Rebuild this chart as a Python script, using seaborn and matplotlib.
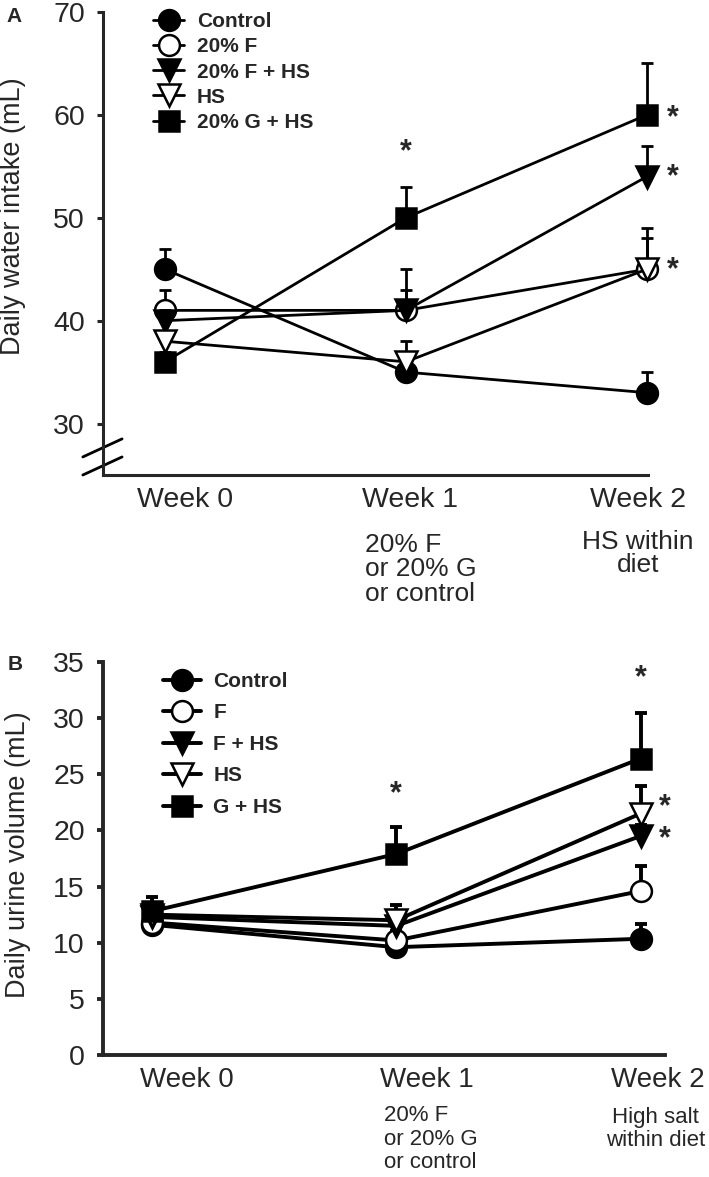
import numpy as np
import pandas as pd
import matplotlib
matplotlib.use("Agg")
import matplotlib.pyplot as plt
import seaborn as sns

# values (mean and upper SEM)
weeks = [0, 1, 2]

groups_a = ["Control", "20% F", "20% F + HS", "HS", "20% G + HS"]
water_control = [45, 35, 33]
water_f = [41, 41, 45]
water_fhs = [40, 41, 54]
water_hs = [38, 36, 45]
water_ghs = [36, 50, 60]
water_err_control = [2, 2, 2]
water_err_f = [2, 4, 4]
water_err_fhs = [1, 2, 3]
water_err_hs = [1, 2, 3]
water_err_ghs = [1, 3, 5]

groups_b = ["Control", "F", "F + HS", "HS", "G + HS"]
urine_control = [11.6, 9.6, 10.35]
urine_f = [11.8, 10.2, 14.6]
urine_fhs = [12.3, 11.5, 19.5]
urine_hs = [12.5, 12.0, 21.5]
urine_ghs = [12.8, 17.9, 26.4]
urine_err_control = [0.8, 0.6, 1.35]
urine_err_f = [0.8, 0.8, 2.2]
urine_err_fhs = [0.8, 0.8, 1.0]
urine_err_hs = [1.0, 1.4, 2.5]
urine_err_ghs = [1.3, 2.4, 4.1]

week_labels = ["Week 0", "Week 1", "Week 2"]
sub_week1 = "20% F\nor 20% G\nor control"
sub_week2_a = "HS within\ndiet"
sub_week2_b = "High salt\nwithin diet"

# significance stars: (week, y)
stars_a = [(1, 56.7), (2.11, 60), (2.11, 54.3), (2.11, 45.2)]
stars_b = [(1, 23.5), (2, 33.9), (2.1, 22.4), (2.1, 19.5)]

markers = ["o", "o", "v", "v", "s"]
faces = ["black", "white", "black", "white", "black"]
msizes = [15, 15, 16, 16, 14.5]


def long_frame(groups, values, errs):
    rows = []
    for g, vals, es in zip(groups, values, errs):
        for w, v, e in zip(weeks, vals, es):
            rows.append({"group": g, "week": w, "value": v, "err": e})
    return pd.DataFrame(rows)


df_a = long_frame(groups_a,
                  [water_control, water_f, water_fhs, water_hs, water_ghs],
                  [water_err_control, water_err_f, water_err_fhs, water_err_hs, water_err_ghs])
df_b = long_frame(groups_b,
                  [urine_control, urine_f, urine_fhs, urine_hs, urine_ghs],
                  [urine_err_control, urine_err_f, urine_err_fhs, urine_err_hs, urine_err_ghs])

sns.set_style("ticks")
plt.rcParams["font.family"] = ["Liberation Sans", "DejaVu Sans"]

W, H = 709, 1177
fig = plt.figure(figsize=(W / 100, H / 100), dpi=100)


def px_axes(left, top, right, bottom):
    return fig.add_axes([left / W, 1 - bottom / H, (right - left) / W, (bottom - top) / H])


def draw_panel(ax, df, groups, lw, spine_w):
    for i, g in enumerate(groups):
        sub = df[df["group"] == g]
        eb = ax.errorbar(sub["week"], sub["value"],
                         yerr=[np.zeros(len(sub)), sub["err"]],
                         fmt="none", ecolor="black", elinewidth=lw, capsize=4.5,
                         capthick=lw, zorder=2 + i)
        for art in eb.get_children():
            art.set_clip_on(False)
        sns.lineplot(data=sub, x="week", y="value", ax=ax, color="black", lw=lw,
                     marker=markers[i], ms=msizes[i], markerfacecolor=faces[i],
                     markeredgecolor="black", markeredgewidth=1.8,
                     label=g, clip_on=False, zorder=3 + i, errorbar=None)
    for side in ["top", "right"]:
        ax.spines[side].set_visible(False)
    for side in ["left", "bottom"]:
        ax.spines[side].set_linewidth(spine_w)
    ax.set_xticks([])
    ax.set_xlabel("")
    ax.tick_params(axis="y", direction="out", length=4, width=spine_w,
                   labelsize=20.5, pad=9)


# panel A
ax_a = px_axes(103, 12, 648, 475)
draw_panel(ax_a, df_a, groups_a, 2.0, 2.2)
ax_a.set_xlim(-0.257, 2.005)
ax_a.set_ylim(25, 70)
ax_a.set_yticks([30, 40, 50, 60, 70])
ax_a.set_ylabel("Daily water intake (mL)", fontsize=19.5, va="center")
ax_a.yaxis.set_label_coords(-0.166, 0.56)
ax_a.legend(loc="upper left", bbox_to_anchor=(0.092, 1.0), frameon=False,
            borderpad=0, borderaxespad=0, handlelength=1.5, handletextpad=0.6,
            labelspacing=0.3, prop={"weight": "bold", "size": 15})
# axis break marks
for y0 in [0.0, 0.039]:
    ax_a.plot([-0.037, 0.035], [y0, y0 + 0.039], color="black", lw=2,
              transform=ax_a.transAxes, clip_on=False)
for x, lab in zip([0.083, 1.018, 1.963], week_labels):
    ax_a.text(x, -0.054, lab, fontsize=20.5, ha="center", va="center",
              transform=ax_a.get_xaxis_transform())
ax_a.text(0.831, -0.204, sub_week1, fontsize=19, ha="left", va="center",
          linespacing=1.05, transform=ax_a.get_xaxis_transform())
ax_a.text(1.963, -0.17, sub_week2_a, fontsize=19, ha="center", va="center",
          linespacing=0.95, transform=ax_a.get_xaxis_transform())
for x, y in stars_a:
    ax_a.text(x, y, "*", fontsize=22, ha="center", va="center_baseline",
              fontweight="bold", clip_on=False)
fig.text(14 / W, 1 - 17 / H, "A", fontsize=15, fontweight="bold", ha="center", va="center")

# panel B
ax_b = px_axes(103, 662, 665, 1055)
draw_panel(ax_b, df_b, groups_b, 2.8, 2.8)
ax_b.set_xlim(-0.20, 2.10)
ax_b.set_ylim(0, 35)
ax_b.set_yticks(range(0, 36, 5))
ax_b.set_ylabel("Daily urine volume (mL)", fontsize=19.5, va="center")
ax_b.yaxis.set_label_coords(-0.151, 0.51)
ax_b.legend(loc="upper left", bbox_to_anchor=(0.107, 0.975), frameon=False,
            borderpad=0, borderaxespad=0, handlelength=1.8, handletextpad=0.6,
            labelspacing=0.6, prop={"weight": "bold", "size": 15})
for x, lab in zip([0.143, 1.127, 2.07], week_labels):
    ax_b.text(x, -0.064, lab, fontsize=20, ha="center", va="center",
              transform=ax_b.get_xaxis_transform())
ax_b.text(0.951, -0.214, sub_week1, fontsize=16, ha="left", va="center",
          linespacing=1.15, transform=ax_b.get_xaxis_transform())
ax_b.text(2.061, -0.189, sub_week2_b, fontsize=16, ha="center", va="center",
          linespacing=1.1, transform=ax_b.get_xaxis_transform())
for x, y in stars_b:
    ax_b.text(x, y, "*", fontsize=22, ha="center", va="center_baseline",
              fontweight="bold", clip_on=False)
fig.text(15 / W, 1 - 665 / H, "B", fontsize=15, fontweight="bold", ha="center", va="center")

fig.savefig("out.png", dpi=100)
